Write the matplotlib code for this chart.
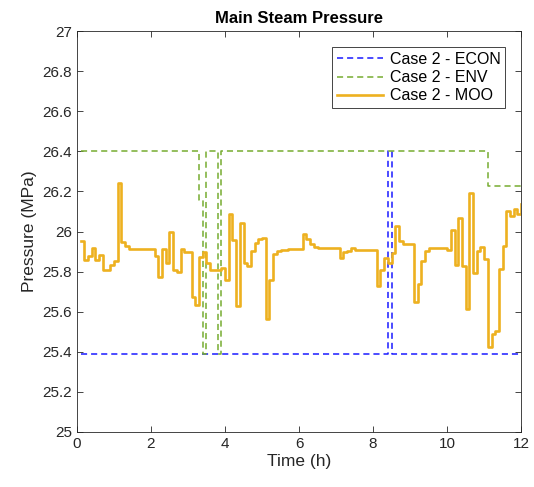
import matplotlib
matplotlib.use('Agg')
import matplotlib.pyplot as plt

plt.rcParams['font.family'] = ['Liberation Sans', 'DejaVu Sans']

# Case 2 - ECON (stairs)
econ_t = [0.1, 8.4, 8.5, 12.0]
econ_p = [25.39, 26.40, 25.39, 25.39]

# Case 2 - ENV (stairs)
env_t = [0.1, 3.3, 3.4, 3.5, 3.8, 3.9, 11.1, 12.0]
env_p = [26.40, 26.16, 25.39, 26.40, 25.39, 26.40, 26.225, 26.225]

# Case 2 - MOO (stairs)
moo_t = [0.1, 0.2, 0.3, 0.4, 0.5, 0.6, 0.7, 0.9, 1.0, 1.1, 1.2, 1.3, 1.4, 1.6,
         2.1, 2.2, 2.3, 2.4, 2.5, 2.6, 2.7, 2.8, 2.9, 3.1, 3.2, 3.3, 3.4, 3.5,
         3.6, 3.9, 4.0, 4.1, 4.2, 4.3, 4.4, 4.5, 4.6, 4.7, 4.8, 4.9, 5.0, 5.1,
         5.2, 5.3, 5.4, 5.5, 5.7, 6.1, 6.2, 6.3, 6.4, 6.5, 7.1, 7.2, 7.3, 7.4,
         7.5, 8.1, 8.2, 8.3, 8.4, 8.5, 8.6, 8.7, 8.8, 9.1, 9.2, 9.3, 9.4, 9.5,
         9.6, 10.0, 10.1, 10.2, 10.3, 10.4, 10.5, 10.6, 10.7, 10.8, 10.9, 11.0,
         11.1, 11.2, 11.3, 11.4, 11.5, 11.6, 11.7, 11.8, 11.9, 12.0]
moo_p = [25.954, 25.858, 25.878, 25.916, 25.858, 25.883, 25.808, 25.833, 25.854,
         26.242, 25.949, 25.927, 25.911, 25.915,
         25.878, 25.772, 25.915, 25.841, 26.0, 25.808, 25.80, 25.914, 25.898,
         25.675, 25.634, 25.874, 25.90, 25.844,
         25.808, 25.82, 25.758, 26.087, 25.957, 25.63, 26.045, 25.841, 25.828,
         25.904, 25.944, 25.964, 25.97, 25.563,
         25.758, 25.886, 25.904, 25.908, 25.913, 25.986, 25.962, 25.94, 25.924,
         25.92, 25.869, 25.898, 25.904, 25.916,
         25.91, 25.73, 25.808, 25.866, 25.844, 25.891, 26.027, 25.952, 25.94,
         25.65, 25.737, 25.854, 25.904, 25.92,
         25.917, 25.91, 26.007, 25.834, 26.067, 25.83, 25.615, 26.19, 25.795,
         25.902, 25.924, 25.861,
         25.423, 25.49, 25.506, 25.815, 25.927, 26.103, 26.077, 26.115, 26.09, 26.14]

fig = plt.figure(figsize=(5.34, 4.87), dpi=100)
ax = fig.add_axes([0.144, 0.113, 0.832, 0.823])

ax.plot(econ_t, econ_p, color='#1a1aff', lw=1.1, ls='--', dashes=(4, 2.6),
        drawstyle='steps-post', label='Case 2 - ECON')
ax.plot(env_t, env_p, color='#77ac30', lw=1.1, ls='--', dashes=(4, 2.6),
        drawstyle='steps-post', label='Case 2 - ENV')
ax.plot(moo_t, moo_p, color='#edb120', lw=1.9,
        drawstyle='steps-post', label='Case 2 - MOO')

ax.set_xlim(0, 12)
ax.set_ylim(25, 27)
ax.set_xticks(range(0, 13, 2))
ax.set_yticks([25 + 0.2 * i for i in range(11)])
ax.set_yticklabels(['25', '25.2', '25.4', '25.6', '25.8', '26', '26.2', '26.4',
                    '26.6', '26.8', '27'])
ax.tick_params(direction='in', top=True, right=True, length=4, width=0.6,
               colors='#262626', labelsize=11, labelcolor='#262626')
for s in ax.spines.values():
    s.set_color('#262626')
    s.set_linewidth(0.6)

ax.set_xlabel('Time (h)', fontsize=12.5, color='#262626', labelpad=2)
ax.set_ylabel('Pressure (MPa)', fontsize=12.5, color='#262626', labelpad=4)
ax.set_title('Main Steam Pressure', fontsize=12, fontweight='bold', pad=6)

leg = ax.legend(loc='upper right', fontsize=11.5, handlelength=2.9,
                fancybox=False, edgecolor='#262626', framealpha=1,
                borderpad=0.3, labelspacing=0.2, handletextpad=0.4,
                borderaxespad=1.0)
leg.get_frame().set_linewidth(0.6)

fig.savefig('out.png', dpi=100)
